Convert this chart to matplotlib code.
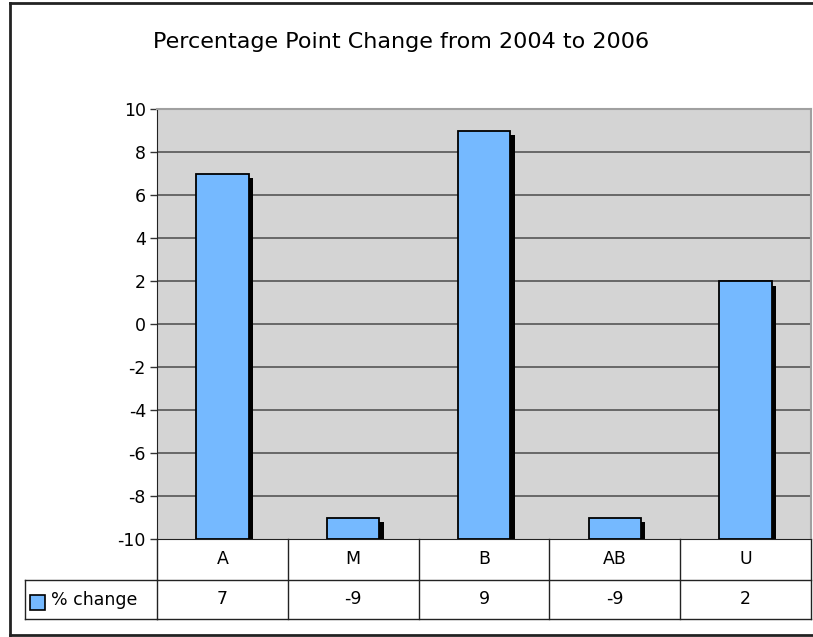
import matplotlib.pyplot as plt
from matplotlib.patches import Rectangle
from matplotlib.lines import Line2D
from matplotlib.transforms import blended_transform_factory, offset_copy

categories = ["A", "M", "B", "AB", "U"]
pct_change = [7, -9, 9, -9, 2]
series_name = "% change"
title = "Percentage Point Change from 2004 to 2006"
yticks = [-10, -8, -6, -4, -2, 0, 2, 4, 6, 8, 10]

W, H = 813, 637
fig = plt.figure(figsize=(W / 100, H / 100), dpi=100)
plt.rcParams["font.family"] = ["DejaVu Sans"]

# plot area in pixels
left, right, top, bottom = 157, 811, 109, 539
ax = fig.add_axes([left / W, 1 - bottom / H, (right - left) / W, (bottom - top) / H])
ax.set_facecolor("#d4d4d4")
ax.set_xlim(-0.5, len(categories) - 0.5)
ax.set_ylim(-10, 10)
ax.set_yticks(yticks)
ax.set_yticklabels([str(t) for t in yticks], fontsize=12.5)
ax.tick_params(axis="y", length=5, width=1, color="#333333", pad=3)
ax.set_xticks([])
for t in yticks[1:-1]:
    ax.axhline(t, color="#555555", lw=1.2, zorder=1)
for s in ["top", "right"]:
    ax.spines[s].set_color("#a0a0a0")
    ax.spines[s].set_linewidth(1.5)
ax.spines["left"].set_color("#222222")
ax.spines["bottom"].set_color("#222222")

# bars grow up from the axis floor (-10), with a black drop shadow
shadow_tr = offset_copy(ax.transData, fig=fig, x=4.5, y=-4.5, units="dots")
bw = 0.4
for i, v in enumerate(pct_change):
    ax.add_patch(Rectangle((i - bw / 2, -10), bw, v + 10, facecolor="black",
                           edgecolor="none", transform=shadow_tr, zorder=2, clip_on=True))
    ax.add_patch(Rectangle((i - bw / 2, -10), bw, v + 10, facecolor="#75b9ff",
                           edgecolor="black", lw=1.3, zorder=3))

# data table below the plot
tr = blended_transform_factory(ax.transData, ax.transAxes)
ph = bottom - top
r1 = -41 / ph
r2 = -80 / ph
xl = -0.5
xr = len(categories) - 0.5
leg_x = -(left - 25) / (right - left)
lc = "#222222"
ax.add_line(Line2D([xl, xr], [r1, r1], transform=tr, color=lc, lw=1, clip_on=False))
ax.add_line(Line2D([xl, xr], [r2, r2], transform=tr, color=lc, lw=1, clip_on=False))
ax.add_line(Line2D([leg_x, 0], [r1, r1], transform=ax.transAxes, color=lc, lw=1, clip_on=False))
ax.add_line(Line2D([leg_x, 0], [r2, r2], transform=ax.transAxes, color=lc, lw=1, clip_on=False))
ax.add_line(Line2D([leg_x, leg_x], [r1, r2], transform=ax.transAxes, color=lc, lw=1, clip_on=False))
for k in range(len(categories) + 1):
    x = k - 0.5
    ax.add_line(Line2D([x, x], [0, r2], transform=tr, color=lc, lw=1, clip_on=False))
for i, (c, v) in enumerate(zip(categories, pct_change)):
    ax.text(i, r1 / 2, c, transform=tr, ha="center", va="center", fontsize=12.5)
    ax.text(i, (r1 + r2) / 2, str(v), transform=tr, ha="center", va="center", fontsize=12.5)

# legend key in the table
fig.add_artist(Rectangle((30 / W, 1 - 610 / H), 15 / W, 15 / H, facecolor="#75b9ff",
                         edgecolor="black", lw=1.2, transform=fig.transFigure))
fig.text(51 / W, 1 - 600 / H, series_name, ha="left", va="center", fontsize=12.5)

# title and outer frame
fig.text(401 / W, 1 - 42 / H, title, ha="center", va="center", fontsize=16)
fig.add_artist(Line2D([9.5 / W, 9.5 / W], [1 - 2.5 / H, 1 - 635 / H], color="#222222", lw=2,
                      transform=fig.transFigure))
fig.add_artist(Line2D([9.5 / W, 1], [1 - 2.5 / H, 1 - 2.5 / H], color="#222222", lw=2,
                      transform=fig.transFigure))
fig.add_artist(Line2D([9.5 / W, 1], [1 - 635 / H, 1 - 635 / H], color="#222222", lw=2,
                      transform=fig.transFigure))

fig.savefig("out.png", dpi=100, facecolor="white")
